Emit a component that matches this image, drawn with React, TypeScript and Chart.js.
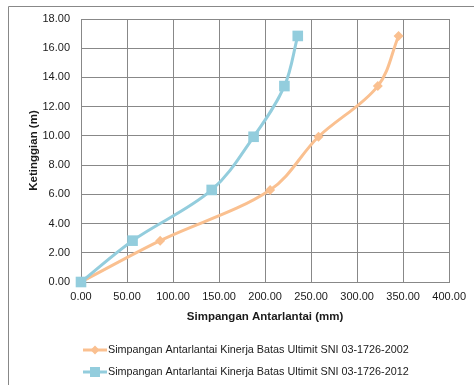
import { useEffect, useRef } from "react";
import { Chart, registerables } from "chart.js";

Chart.register(...registerables);

// Storey heights (m) and inter-storey drift (mm) for each code edition
const storeyHeights = [0, 2.83, 6.3, 9.94, 13.41, 16.84];
const drift2002 = [0, 86, 205.5, 258, 322.5, 345];
const drift2012 = [0, 56, 142, 187.5, 221, 235.5];

const seriesNames = [
  "Simpangan Antarlantai Kinerja Batas Ultimit SNI 03-1726-2002",
  "Simpangan Antarlantai Kinerja Batas Ultimit SNI 03-1726-2012",
];
const seriesColors = ["#FAC090", "#93CDDD"];
const seriesMarkers = ["rectRot", "rect"];

const xTitle = "Simpangan Antarlantai (mm)";
const yTitle = "Ketinggian (m)";

const FONT = "'Liberation Sans', Arial, sans-serif";
const GRID = "#888888";

function drawMarker(ctx: CanvasRenderingContext2D, style: string, x: number, y: number, color: string) {
  ctx.fillStyle = color;
  ctx.beginPath();
  if (style === "rect") {
    ctx.rect(x - 5, y - 5, 10, 10);
  } else {
    ctx.moveTo(x, y - 4.5);
    ctx.lineTo(x + 4.5, y);
    ctx.lineTo(x, y + 4.5);
    ctx.lineTo(x - 4.5, y);
    ctx.closePath();
  }
  ctx.fill();
}

// Frame around the whole chart plus the legend rows underneath
const framePlugin = {
  id: "frameAndLegend",
  afterDraw(chart: any) {
    const ctx: CanvasRenderingContext2D = chart.ctx;
    ctx.save();
    ctx.strokeStyle = GRID;
    ctx.lineWidth = 1;
    ctx.beginPath();
    ctx.moveTo(8.5, 400);
    ctx.lineTo(8.5, 6.5);
    ctx.lineTo(480, 6.5);
    ctx.stroke();

    const rows = [350, 372];
    chart.data.datasets.forEach((ds: any, i: number) => {
      const y = rows[i];
      ctx.strokeStyle = ds.borderColor;
      ctx.lineWidth = 3;
      ctx.beginPath();
      ctx.moveTo(83, y);
      ctx.lineTo(107, y);
      ctx.stroke();
      drawMarker(ctx, seriesMarkers[i], 95, y, ds.borderColor);
      ctx.fillStyle = "#1a1a1a";
      ctx.font = `10.8px ${FONT}`;
      ctx.textBaseline = "middle";
      ctx.textAlign = "left";
      ctx.fillText(ds.label, 108, y + 0.5, 302);
    });
    ctx.restore();
  },
};

export default function App() {
  const canvasRef = useRef<HTMLCanvasElement | null>(null);

  useEffect(() => {
    if (!canvasRef.current) return;
    const makeSeries = (xs: number[], i: number) => ({
      label: seriesNames[i],
      data: xs.map((x, k) => ({ x, y: storeyHeights[k] })),
      borderColor: seriesColors[i],
      backgroundColor: seriesColors[i],
      borderWidth: 3,
      pointStyle: seriesMarkers[i],
      pointRadius: i === 0 ? 5 : 7.5,
      pointBorderWidth: 0,
      tension: 0.35,
      showLine: true,
      fill: false,
      clip: false,
      // the 2012 series sits on top
      order: i === 0 ? 1 : 0,
    });

    const chart = new Chart(canvasRef.current, {
      type: "scatter",
      data: {
        datasets: [makeSeries(drift2002, 0), makeSeries(drift2012, 1)],
      },
      options: {
        animation: false,
        responsive: false,
        devicePixelRatio: 1,
        layout: { padding: { left: 20, top: 19, right: 23, bottom: 58 } },
        plugins: {
          legend: { display: false },
          tooltip: { enabled: false },
        },
        scales: {
          x: {
            type: "linear",
            min: 0,
            max: 400,
            ticks: {
              stepSize: 50,
              color: "#1a1a1a",
              font: { family: FONT, size: 11 },
              padding: 8,
              maxRotation: 0,
              callback: (v: any) => Number(v).toFixed(2),
            },
            grid: { color: GRID, drawTicks: false },
            border: { color: GRID },
            title: {
              display: true,
              text: xTitle,
              color: "#1a1a1a",
              font: { family: FONT, size: 11.5, weight: "bold" },
              padding: { top: 0, bottom: 3 },
            },
            afterFit: (scale: any) => {
              scale.height = 45;
            },
          },
          y: {
            type: "linear",
            min: 0,
            max: 18,
            ticks: {
              stepSize: 2,
              color: "#1a1a1a",
              font: { family: FONT, size: 11 },
              padding: 11,
              callback: (v: any) => Number(v).toFixed(2),
            },
            grid: { color: GRID, drawTicks: false },
            border: { color: GRID },
            title: {
              display: true,
              text: yTitle,
              color: "#1a1a1a",
              font: { family: FONT, size: 11.5, weight: "bold" },
              padding: { top: 7, bottom: 0 },
            },
            afterFit: (scale: any) => {
              scale.width = 61;
            },
          },
        },
      } as any,
      plugins: [framePlugin],
    });
    return () => chart.destroy();
  }, []);

  return (
    <div style={{ position: "fixed", left: 0, top: 0, width: 474, height: 385, background: "#fff" }}>
      <canvas ref={canvasRef} width={474} height={385} style={{ display: "block" }} />
    </div>
  );
}
